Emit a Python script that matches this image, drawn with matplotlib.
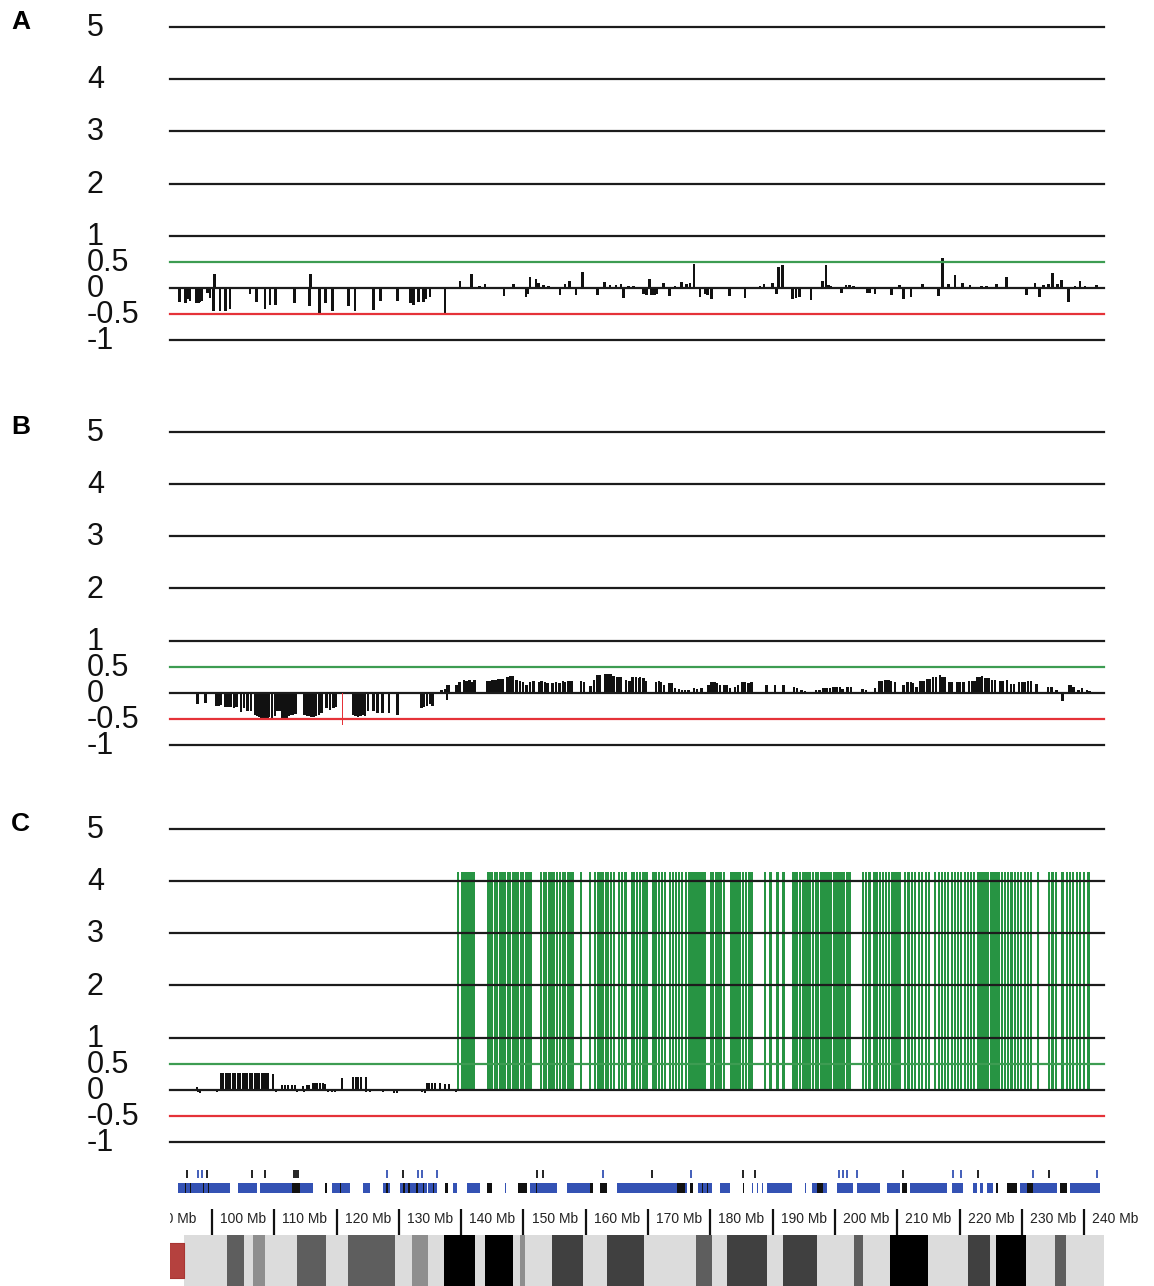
import matplotlib
matplotlib.use("Agg")
import matplotlib.pyplot as plt
from matplotlib import transforms

plt.rcParams['font.family'] = ['Liberation Sans', 'DejaVu Sans']

W, H = 1154, 1286
PX_PER_MB = 6.23
X0 = 100 - (212 - 170) / PX_PER_MB   # left edge of the plotted region (Mb)
X1 = 100 + (1104 - 212) / PX_PER_MB  # chromosome end

# y levels drawn as rules in every panel
levels = [5, 4, 3, 2, 1, 0.5, 0, -0.5, -1]
level_labels = ['5', '4', '3', '2', '1', '0.5', '0', '-0.5', '-1']

# panel A: probe log ratios (Mb, value)
a_pos = [94.76, 95.77, 96.09, 96.47, 97.54, 97.81, 98.07, 98.34, 99.30, 99.68,
         100.21, 100.37, 101.28, 102.19, 102.89, 106.10, 107.17, 108.51, 109.31, 110.22,
         113.22, 115.60, 115.80, 117.23, 118.25, 119.37, 121.88, 122.95, 125.90, 127.07,
         129.80, 131.89, 132.32, 133.12, 133.92, 134.30, 134.99, 137.40, 139.81, 141.68,
         142.91, 143.82, 146.87, 148.37, 150.40, 150.67, 151.04, 152.01, 152.38, 153.18,
         153.99, 155.86, 156.66, 157.36, 158.43, 159.50, 161.91, 162.97, 163.88, 164.85,
         165.65, 166.02, 166.83, 167.63, 168.17,
         169.23, 169.77, 170.20, 170.57, 171.00, 171.38, 172.44, 173.41, 174.32, 175.39,
         176.19, 176.73, 177.37, 178.33, 179.13, 179.51, 180.20, 183.04, 183.68, 184.75,
         185.55, 187.96, 188.60, 189.99, 190.64, 190.90, 191.60, 193.21, 193.74, 194.28,
         196.15, 198.02, 198.56, 198.93, 199.30, 201.07, 201.77, 202.30, 202.94, 205.19,
         205.51, 206.42, 207.76, 209.10, 210.33, 210.97, 212.20, 214.07, 215.14, 216.59,
         217.28, 218.19, 219.26, 220.49, 221.67, 223.54, 224.35, 225.95, 227.56, 230.77,
         232.10, 232.80, 233.44, 234.24, 234.94, 235.69, 236.38, 237.45, 238.52, 239.33,
         240.13, 242.00]
a_val = [-0.28, -0.30, -0.22, -0.25, -0.30, -0.30, -0.28, -0.25, -0.10, -0.20,
         -0.44, 0.26, -0.44, -0.44, -0.40, -0.12, -0.27, -0.40, -0.33, -0.33,
         -0.30, -0.34, 0.26, -0.50, -0.30, -0.45, -0.35, -0.45, -0.42, -0.25,
         -0.26, -0.30, -0.32, -0.28, -0.28, -0.22, -0.17, -0.52, 0.14, 0.27,
         0.03, 0.07, -0.15, 0.08, -0.17, -0.12, 0.20, 0.17, 0.10, 0.05,
         0.03, -0.13, 0.07, 0.13, -0.13, 0.30, -0.13, 0.12, 0.05, 0.05,
         0.07, -0.20, 0.03, 0.03, 0.02,
         -0.12, -0.13, 0.17, -0.13, -0.13, -0.12, 0.10, -0.15, 0.03, 0.12,
         0.08, 0.10, 0.45, -0.17, -0.12, -0.13, -0.22, -0.15, 0.02, 0.02,
         -0.20, 0.03, 0.08, 0.09, -0.12, 0.40, 0.43, -0.22, -0.20, -0.18,
         -0.23, 0.13, 0.44, 0.05, 0.04, -0.10, 0.05, 0.06, 0.04, -0.10,
         -0.10, -0.12, 0.02, -0.13, 0.05, -0.22, -0.18, 0.07, 0.02, -0.15,
         0.57, 0.07, 0.25, 0.10, 0.05, 0.03, 0.03, 0.07, 0.20, -0.13,
         0.09, -0.18, 0.06, 0.07, 0.28, 0.07, 0.15, -0.27, 0.03, 0.13,
         0.03, 0.05]

# panel B: segmented log ratios
b_pos = [97.70, 98.98, 100.75, 101.07, 101.45, 102.19, 102.62, 103.05, 103.53, 103.96,
         104.65, 105.14, 105.72, 106.21, 106.90, 107.28, 107.60, 107.92, 108.24, 108.56,
         108.88, 109.20, 109.68, 110.11, 110.49, 110.91, 111.34, 111.66, 111.98, 112.31,
         112.68, 113.05, 113.43, 114.82, 115.20, 115.57, 115.94, 116.32, 116.69, 117.17,
         117.60, 118.40, 118.94, 119.48, 119.90, 122.69, 123.06, 123.43, 123.81, 124.18,
         124.56, 125.09, 125.90, 126.54, 127.34, 128.46, 129.75, 133.65, 134.03, 134.46,
         134.99, 135.37, 136.06, 136.86, 137.40, 137.77, 137.77, 138.09, 139.27, 139.70,
         140.45, 140.88, 141.31, 141.73, 142.11, 144.25, 144.62, 145.05, 145.53, 145.96,
         146.34, 146.76, 147.41, 147.83, 148.21, 148.90, 149.44, 149.97, 150.51, 151.04,
         151.58, 152.49, 152.91, 153.45, 153.88, 154.68, 155.22, 155.75, 156.29, 156.71,
         157.20, 157.73, 159.18, 159.71, 160.78, 161.32, 161.85, 162.28, 163.19, 163.62,
         163.99, 164.42, 165.06, 165.59, 166.45, 166.99, 167.52, 168.06, 168.49,
         168.70, 169.24, 169.61, 171.27, 171.70, 172.12, 172.55, 173.41, 173.84, 174.32,
         175.01, 175.44, 175.92, 176.46, 177.37, 177.80, 178.60, 179.67, 180.20, 180.63,
         181.01, 181.54, 182.18, 182.61, 183.15, 183.95, 184.48, 185.13, 185.55, 186.09,
         186.62, 189.03, 190.37, 191.71, 193.42, 193.85, 194.65, 195.19, 196.95, 197.49,
         198.13, 198.66, 199.20, 199.73, 200.27, 200.80, 201.23, 202.03, 202.52, 204.44,
         204.98, 206.42, 207.12, 207.49, 208.13, 208.56, 208.94, 209.63, 210.97, 211.61,
         212.15, 212.57, 213.11, 213.75, 214.18, 214.82, 215.25, 215.78, 216.21, 216.85,
         217.28, 217.66, 218.35, 218.83, 219.64, 220.06, 220.60, 221.51, 221.94, 222.37,
         222.85, 223.27, 223.60, 224.18, 224.61, 225.25, 225.68, 226.49, 226.91, 227.56,
         228.20, 228.73, 229.54, 230.07, 230.50, 230.93, 231.41, 232.37, 234.24, 234.78,
         235.58, 236.54, 237.51, 237.88, 238.26, 239.06, 239.65, 240.40, 240.83]
b_val = [-0.22, -0.20, -0.25, -0.25, -0.24, -0.27, -0.28, -0.27, -0.30, -0.28,
         -0.37, -0.30, -0.35, -0.35, -0.42, -0.45, -0.47, -0.48, -0.50, -0.50,
         -0.50, -0.46, -0.50, -0.45, -0.35, -0.35, -0.50, -0.50, -0.48, -0.45,
         -0.42, -0.42, -0.40, -0.43, -0.45, -0.45, -0.47, -0.47, -0.45, -0.42,
         -0.38, -0.30, -0.32, -0.30, -0.28, -0.42, -0.45, -0.47, -0.45, -0.43,
         -0.45, -0.35, -0.35, -0.38, -0.38, -0.38, -0.42, -0.30, -0.28, -0.25,
         -0.22, -0.25, 0.02, 0.05, 0.08, 0.15, -0.13, 0.15, 0.15, 0.20,
         0.25, 0.22, 0.25, 0.20, 0.25, 0.23, 0.23, 0.25, 0.25, 0.27,
         0.27, 0.27, 0.30, 0.33, 0.33, 0.25, 0.22, 0.20, 0.15, 0.20,
         0.22, 0.20, 0.22, 0.20, 0.18, 0.18, 0.20, 0.18, 0.22, 0.20,
         0.22, 0.22, 0.23, 0.20, 0.13, 0.25, 0.35, 0.35, 0.37, 0.37,
         0.37, 0.33, 0.30, 0.30, 0.25, 0.22, 0.30, 0.30, 0.28,
         0.30, 0.28, 0.22, 0.20, 0.22, 0.20, 0.15, 0.18, 0.18, 0.10,
         0.07, 0.06, 0.05, 0.05, 0.10, 0.08, 0.10, 0.15, 0.20, 0.20,
         0.18, 0.15, 0.15, 0.15, 0.10, 0.12, 0.15, 0.20, 0.20, 0.18,
         0.20, 0.15, 0.15, 0.15, 0.12, 0.10, 0.05, 0.04, 0.05, 0.06,
         0.09, 0.10, 0.09, 0.12, 0.12, 0.12, 0.08, 0.12, 0.12, 0.07,
         0.06, 0.10, 0.22, 0.22, 0.25, 0.25, 0.22, 0.20, 0.15, 0.20,
         0.20, 0.18, 0.12, 0.22, 0.22, 0.27, 0.27, 0.30, 0.30, 0.35,
         0.30, 0.30, 0.20, 0.20, 0.20, 0.20, 0.20, 0.23, 0.23, 0.22,
         0.30, 0.30, 0.33, 0.28, 0.28, 0.25, 0.25, 0.23, 0.22, 0.25,
         0.17, 0.17, 0.20, 0.20, 0.20, 0.23, 0.23, 0.17, 0.12, 0.12,
         0.05, -0.15, 0.15, 0.15, 0.12, 0.06, 0.10, 0.05, 0.03]
b_red_pos = [120.92]
b_red_val = [-0.62]

# panel C: low-level calls (black) and high-level gains (green)
c_black_pos = [97.65, 97.75, 98.07, 99.14, 100.86, 101.39, 101.82, 102.19, 102.57, 102.94,
               103.32, 103.69, 104.17, 104.55, 104.92, 105.30, 105.67, 106.10, 106.47, 106.85,
               107.22, 107.60, 107.97, 108.35, 108.67, 108.99, 109.74, 110.27, 111.24, 111.72,
               112.25, 112.79, 113.32, 113.59, 114.66, 114.77, 115.20, 115.62, 116.16, 116.53,
               116.91, 117.34, 117.76, 118.14, 118.67, 119.21, 119.74, 120.81, 122.69, 123.11,
               123.49, 123.86, 124.72, 124.72, 125.36, 126.16, 127.50, 129.21, 129.75, 133.65,
               134.19, 134.46, 134.88, 135.31, 135.74, 136.60, 137.40, 137.99, 139.16]
c_black_val = [0.05, -0.05, -0.06, 0.02, -0.05, 0.33, 0.33, 0.33, 0.33, 0.33,
               0.33, 0.33, 0.33, 0.33, 0.33, 0.33, 0.33, 0.33, 0.33, 0.33,
               0.33, 0.33, 0.33, 0.33, 0.33, 0.33, 0.30, -0.05, 0.10, 0.10,
               0.10, 0.10, 0.10, -0.04, 0.08, -0.05, 0.10, 0.10, 0.13, 0.13,
               0.13, 0.13, 0.13, 0.12, -0.05, -0.05, -0.05, 0.22, 0.25, 0.25,
               0.25, 0.25, 0.25, -0.05, -0.05, -0.03, -0.05, -0.06, -0.06, -0.05,
               -0.06, 0.13, 0.13, 0.13, 0.13, 0.13, 0.12, 0.12, -0.05]
c_green_pos = [139.52, 140.22, 140.57, 140.92, 141.26, 141.61, 141.96, 144.26, 144.61, 144.95,
               145.37, 145.79, 146.21, 146.62, 147.04, 147.46, 147.88, 148.30, 148.71, 149.13,
               149.55, 149.97, 150.38, 150.80, 151.22, 152.82, 153.24, 153.66, 154.07, 154.49,
               154.91, 155.33, 155.81, 156.30, 156.72, 157.21, 157.55, 157.90, 159.22, 160.62,
               161.52, 161.94, 162.36, 162.77, 163.19, 163.61, 164.10, 164.52, 165.28, 165.84,
               166.39, 167.37, 167.79, 168.27, 168.76, 169.25, 169.74, 170.85, 171.27, 171.75,
               172.24, 172.66, 173.50, 173.98, 174.47, 174.96, 175.44, 176.14, 176.63, 177.12,
               177.60, 178.09, 178.58, 179.06, 180.11, 180.46, 180.87, 181.29, 181.71, 182.13,
               183.38, 183.87, 184.36, 184.77, 185.19, 185.68, 186.16, 186.58, 188.81, 189.65,
               190.76, 191.73, 193.33, 193.82, 194.38, 194.94, 195.42, 195.91, 196.47, 196.89,
               197.30, 197.72, 198.14, 198.56, 198.97, 199.39, 199.81, 200.23, 200.64, 201.06,
               201.48, 201.90, 202.32, 204.47, 204.96, 205.52, 206.35, 206.77, 207.26, 207.74,
               208.16, 208.65, 209.14, 209.55, 210.04, 210.39, 211.23, 211.78, 212.34, 212.90,
               213.45, 214.01, 214.57, 215.12, 216.10, 216.65, 217.21, 217.70, 218.19, 218.74,
               219.30, 219.79, 220.27, 220.83, 221.39, 221.88, 222.36, 222.92, 223.34, 223.76,
               224.17, 224.59, 225.01, 225.43, 225.84, 226.26, 226.75, 227.24, 227.79, 228.35,
               228.84, 229.33, 229.88, 230.44, 230.93, 231.41, 232.53, 234.41, 234.90, 235.46,
               236.50, 237.20, 237.69, 238.25, 238.80, 239.36, 239.99, 240.68]
c_green_val = [4.17] * len(c_green_pos)

# gene track: upper row of single features (Mb, colour key)
gene_top_pos = [95.93, 97.81, 98.34, 99.14, 106.37, 108.51, 113.16, 113.48, 113.86, 128.04,
                130.60, 133.12, 133.65, 136.06, 152.11, 153.18, 162.71, 170.57, 176.83, 185.29,
                187.16, 200.70, 201.34, 201.98, 203.58, 210.86, 218.99, 220.17, 223.01, 231.83,
                234.40, 242.11]
gene_top_kind = ['k', 'b', 'b', 'k', 'k', 'k', 'k', 'k', 'k', 'b',
                 'k', 'b', 'b', 'b', 'k', 'k', 'b', 'k', 'b', 'k',
                 'k', 'b', 'b', 'b', 'b', 'k', 'b', 'b', 'k', 'b',
                 'k', 'b']
# lower row: gene blocks (start, end)
gene_blue = [(94.60, 102.89), (104.23, 107.17), (107.70, 116.27), (119.21, 122.15),
             (124.29, 125.36), (127.50, 128.57), (130.18, 134.46), (134.72, 136.06),
             (138.74, 139.27), (140.88, 143.02), (147.03, 147.20), (151.04, 155.32),
             (156.93, 161.21), (164.95, 176.19), (178.06, 180.20), (181.54, 183.15),
             (186.62, 186.80), (187.43, 187.60), (188.23, 188.40), (189.03, 193.04),
             (195.18, 195.35), (196.25, 198.66), (200.27, 202.94), (203.48, 207.22),
             (208.29, 210.43), (212.04, 217.92), (218.73, 220.60), (222.20, 222.74),
             (223.27, 223.81), (224.34, 225.41), (229.70, 235.58), (237.72, 242.54)]
gene_black = [(95.6, 95.8), (96.4, 96.6), (98.5, 98.7), (99.3, 99.5), (112.8, 114.1),
              (118.14, 118.41), (120.5, 120.7), (128.0, 128.2), (130.7, 131.0), (131.5, 131.8),
              (132.8, 133.1), (133.8, 134.0), (135.5, 135.7), (137.40, 137.93), (144.09, 144.89),
              (149.17, 150.51), (152.0, 152.2), (160.67, 161.21), (162.28, 163.35), (174.59, 175.92),
              (176.73, 177.26), (178.6, 178.8), (179.4, 179.6), (185.2, 185.4), (197.06, 198.13),
              (210.70, 211.50), (225.9, 226.1), (227.55, 229.16), (230.77, 231.83), (236.12, 237.19)]

# scale bar ticks
scale_ticks = list(range(90, 250, 10))

# ideogram bands (start, end, stain)
centromere = (93.1, 95.5)
bands = [(102.4, 105.1, 'gpos50'), (106.6, 108.5, 'gpos25'), (113.6, 118.3, 'gpos50'),
         (121.8, 129.4, 'gpos50'), (132.1, 134.7, 'gpos25'), (137.2, 142.2, 'gpos100'),
         (143.8, 148.3, 'gpos100'), (149.4, 150.2, 'gpos25'), (154.6, 159.6, 'gpos75'),
         (163.4, 169.3, 'gpos75'), (177.7, 180.3, 'gpos50'), (182.7, 189.1, 'gpos75'),
         (191.7, 197.1, 'gpos75'), (203.0, 204.5, 'gpos50'), (208.8, 214.9, 'gpos100'),
         (221.3, 224.9, 'gpos75'), (225.8, 230.7, 'gpos100'), (235.3, 237.1, 'gpos50')]
stain_color = {'gpos25': '#8e8e8e', 'gpos50': '#5e5e5e', 'gpos75': '#404040', 'gpos100': '#000000'}
gene_color = {'b': '#3452b4', 'k': '#111111'}


def px_axes(fig, left, top, right, bottom):
    return fig.add_axes([left / W, 1 - bottom / H, (right - left) / W, (bottom - top) / H])


def draw_panel(fig, top, bottom, letter):
    ax = px_axes(fig, 170, top, 1104, bottom)
    ax.set_xlim(X0, X1)
    ax.set_ylim(-1, 5)
    ax.axis('off')
    for lv in levels:
        col = '#1c1c1c'
        if lv == 0.5:
            col = '#3d9c52'
        elif lv == -0.5:
            col = '#e53238'
        ax.axhline(lv, color=col, lw=1.6, zorder=4, clip_on=False)
    trans = transforms.blended_transform_factory(fig.transFigure, ax.transData)
    for lv, lab in zip(levels, level_labels):
        ax.text(87 / W, lv - 0.02, lab, transform=trans, ha='left', va='center',
                fontsize=22, color='#111111')
    fig.text(11 / W, 1 - (top - 5) / H, letter, fontsize=19, fontweight='bold',
             ha='left', va='center')
    return ax


fig = plt.figure(figsize=(W / 100, H / 100), dpi=100)

axA = draw_panel(fig, 27, 340, 'A')
axA.bar(a_pos, a_val, width=0.45, color='#111111', linewidth=0, zorder=2)

axB = draw_panel(fig, 432, 745, 'B')
axB.bar(b_pos, b_val, width=0.38, color='#111111', linewidth=0, zorder=2)
axB.bar(b_red_pos, b_red_val, width=0.22, color='#e53238', linewidth=0, zorder=5)

axC = draw_panel(fig, 829, 1142, 'C')
axC.bar(c_black_pos, c_black_val, width=0.34, color='#111111', linewidth=0, zorder=2)
axC.bar(c_green_pos, c_green_val, width=0.36, color='#279443',
        linewidth=0, zorder=3)

# gene track
gx = px_axes(fig, 170, 1165, 1104, 1197)
gx.set_xlim(X0, X1)
gx.set_ylim(0, 1)
gx.axis('off')
for p, k in zip(gene_top_pos, gene_top_kind):
    gx.vlines(p, 0.59, 0.84, color=gene_color[k], lw=1.3)
gx.broken_barh([(s, e - s) for s, e in gene_blue], (0.12, 0.32), facecolor=gene_color['b'])
gx.broken_barh([(s, e - s) for s, e in gene_black], (0.12, 0.32), facecolor=gene_color['k'])

# Mb scale
sx = px_axes(fig, 170, 1200, 1138, 1236)
sx.set_xlim(X0, X0 + (1138 - 170) / PX_PER_MB)
sx.set_ylim(0, 1)
sx.axis('off')
for t in scale_ticks:
    sx.vlines(t, 0.03, 0.75, color='#111111', lw=1.6)
    txt = sx.text(t + 8 / PX_PER_MB, 0.47, f'{t} Mb', fontsize=10, ha='left', va='center',
                  color='#222222', clip_on=True)
    txt.set_clip_path(sx.patch)

# ideogram
ix = px_axes(fig, 170, 1235, 1104, 1286)
ix.set_xlim(X0, X1)
ix.set_ylim(0, 1)
ix.axis('off')
ix.broken_barh([(centromere[1], X1 - centromere[1])], (0, 1), facecolor='#dcdcdc')
for s, e, st in bands:
    ix.broken_barh([(s, e - s)], (0, 1), facecolor=stain_color[st])
ix.broken_barh([(centromere[0], centromere[1] - centromere[0])], (0.16, 0.68),
               facecolor='#b5413e', edgecolor='#a83532', lw=0.8)

fig.savefig('out.png', dpi=100)
